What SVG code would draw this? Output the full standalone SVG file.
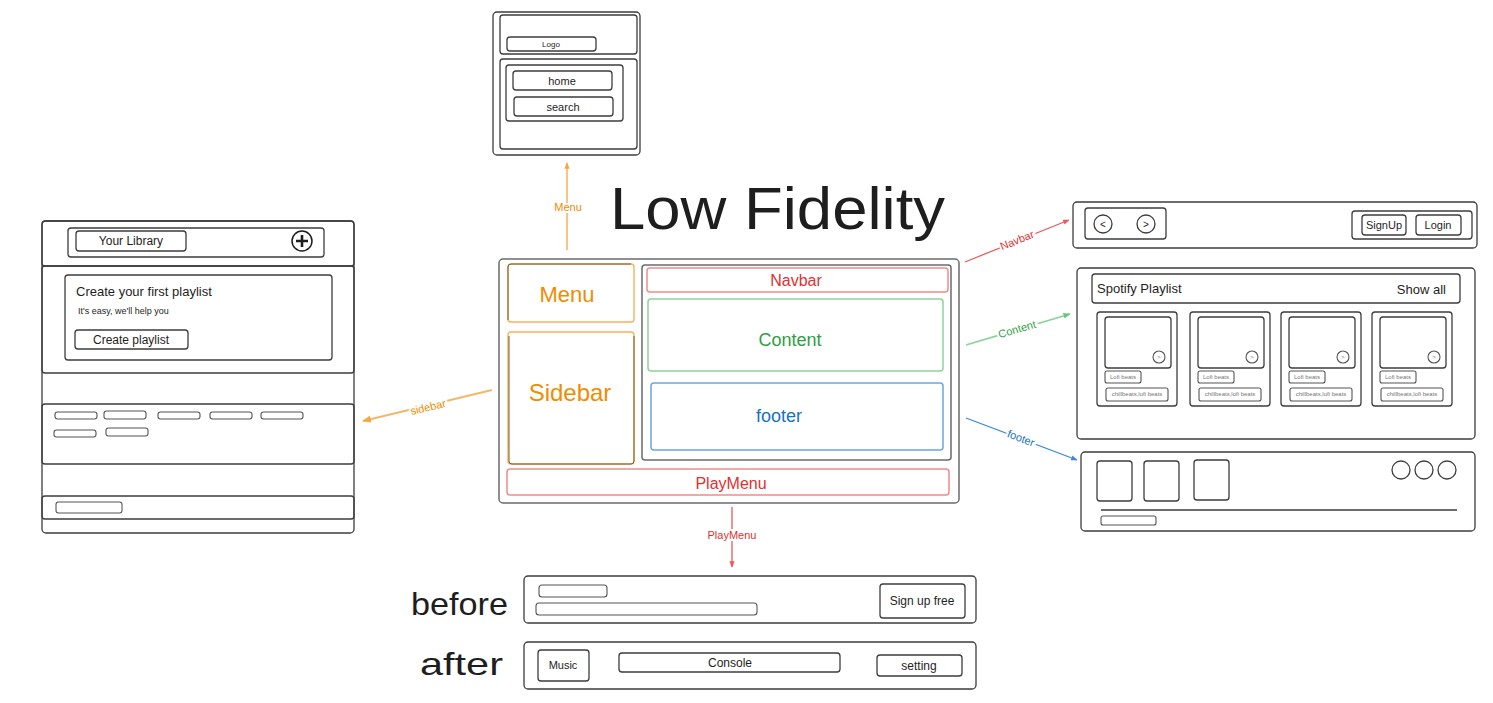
<svg xmlns="http://www.w3.org/2000/svg" width="1493" height="703" viewBox="0 0 1493 703">
  <defs>
    <style>
      .b{fill:none;stroke:#3d3d3d;stroke-width:1.3}
      .bl{fill:none;stroke:#555;stroke-width:1.1}
      .t{font-family:"Liberation Sans",Arial,sans-serif;fill:#1e1e1e;text-anchor:middle}
      .tl{font-family:"Liberation Sans",Arial,sans-serif;fill:#1e1e1e}
      .tiny{font-family:"Liberation Sans",Arial,sans-serif;fill:#777;font-size:6px;text-anchor:middle}
      .lbl{font-family:"Liberation Sans",Arial,sans-serif;font-size:11px;text-anchor:middle;stroke:#fff;stroke-width:4px;paint-order:stroke}
      .orange{fill:#f08c00}.red{fill:#e03131}.green{fill:#2f9e44}.blue{fill:#1971c2}
    </style>
    <marker id="ao" viewBox="0 0 10 10" refX="9" refY="5" markerWidth="5" markerHeight="5" orient="auto-start-reverse"><path d="M0,1 L10,5 L0,9 Z" fill="#f5a742"/></marker>
    <marker id="ar" viewBox="0 0 10 10" refX="9" refY="5" markerWidth="5" markerHeight="5" orient="auto-start-reverse"><path d="M0,1 L10,5 L0,9 Z" fill="#ec5a5a"/></marker>
    <marker id="ag" viewBox="0 0 10 10" refX="9" refY="5" markerWidth="4" markerHeight="4" orient="auto-start-reverse"><path d="M0,1 L10,5 L0,9 Z" fill="#6cc27e"/></marker>
    <marker id="ab" viewBox="0 0 10 10" refX="9" refY="5" markerWidth="5" markerHeight="5" orient="auto-start-reverse"><path d="M0,1 L10,5 L0,9 Z" fill="#3d88d6"/></marker>
  </defs>
  <rect width="1493" height="703" fill="#fff"/>

  <!-- title -->
  <g id="title">
    <text class="tl" x="610" y="229" font-size="60" textLength="335" lengthAdjust="spacingAndGlyphs">Low Fidelity</text>
  </g>

  <!-- menu wireframe (top) -->
  <g id="menu-wire">
    <rect class="b" x="493" y="12" width="147" height="143" rx="4"/>
    <rect class="b" x="500" y="15" width="137" height="39" rx="3"/>
    <rect class="b" x="507" y="37" width="89" height="14" rx="3"/>
    <text class="t" x="551" y="47" font-size="8">Logo</text>
    <rect class="b" x="500" y="59" width="137" height="90" rx="3"/>
    <rect class="b" x="506" y="65" width="117" height="56" rx="3"/>
    <rect class="b" x="513" y="71" width="99" height="19" rx="3"/>
    <text class="t" x="562" y="85" font-size="11">home</text>
    <rect class="b" x="514" y="97" width="99" height="19" rx="3"/>
    <text class="t" x="563" y="111" font-size="11">search</text>
  </g>

  <!-- library wireframe (left) -->
  <g id="library-wire">
    <rect class="b" x="42" y="221" width="312" height="312" rx="4"/>
    <rect class="b" x="42" y="221" width="312" height="45" rx="3"/>
    <rect class="b" x="68" y="228" width="256" height="29" rx="3"/>
    <rect class="b" x="76" y="231" width="110" height="20" rx="3"/>
    <text class="t" x="131" y="245" font-size="12">Your Library</text>
    <circle cx="302" cy="241" r="10" fill="none" stroke="#1e1e1e" stroke-width="1.5"/>
    <path d="M296 241 H308 M302 235 V247" stroke="#1e1e1e" stroke-width="2.6"/>
    <rect class="b" x="42" y="266" width="312" height="107" rx="3"/>
    <rect class="b" x="65" y="275" width="267" height="85" rx="3"/>
    <text class="tl" x="76" y="296" font-size="13">Create your first playlist</text>
    <text class="tl" x="78" y="314" font-size="9">It's easy, we'll help you</text>
    <rect class="b" x="75" y="330" width="113" height="19" rx="3"/>
    <text class="t" x="131" y="344" font-size="12">Create playlist</text>
    <rect class="b" x="42" y="404" width="312" height="60" rx="3"/>
    <g class="bl">
      <rect x="55" y="412" width="42" height="7" rx="2.5"/>
      <rect x="104" y="411" width="42" height="8" rx="2.5"/>
      <rect x="158" y="412" width="42" height="7" rx="2.5"/>
      <rect x="210" y="412" width="42" height="7" rx="2.5"/>
      <rect x="261" y="412" width="42" height="7" rx="2.5"/>
      <rect x="54" y="430" width="42" height="7" rx="2.5"/>
      <rect x="106" y="428" width="42" height="8" rx="2.5"/>
    </g>
    <rect class="b" x="42" y="496" width="312" height="23" rx="3"/>
    <rect class="bl" x="56" y="502" width="66" height="11" rx="2.5"/>
  </g>

  <!-- layout frame (centre) -->
  <g id="layout">
    <rect x="499" y="259" width="460" height="244" rx="4" fill="none" stroke="#6b6b6b" stroke-width="1.5"/>
    <rect x="508" y="264" width="126" height="58" rx="3" fill="none" stroke="#f6b35e" stroke-width="1.4"/>
    <path d="M508 320 V267 Q508 264 511 264 H631" fill="none" stroke="#7a5a2e" stroke-width="1"/>
    <text class="t orange" x="567" y="302" font-size="22">Menu</text>
    <rect x="508" y="332" width="126" height="132" rx="3" fill="none" stroke="#f6b35e" stroke-width="1.4"/>
    <path d="M509 336 V461 Q509 464 512 464 H631 Q634 464 634 461 V336" fill="none" stroke="#7a5a2e" stroke-width="1"/>
    <text class="t orange" x="570" y="401" font-size="24">Sidebar</text>
    <rect x="642" y="265" width="309" height="195" rx="3" fill="none" stroke="#6b6b6b" stroke-width="1.5"/>
    <rect x="647" y="268" width="301" height="24" rx="3" fill="none" stroke="#f08c8c" stroke-width="1.5"/>
    <text class="t red" x="796" y="286" font-size="16">Navbar</text>
    <rect x="648" y="299" width="295" height="72" rx="3" fill="none" stroke="#8fd19e" stroke-width="1.5"/>
    <text class="t green" x="790" y="346" font-size="18">Content</text>
    <rect x="651" y="383" width="292" height="67" rx="3" fill="none" stroke="#6aa6e0" stroke-width="1.5"/>
    <text class="t blue" x="779" y="422" font-size="18">footer</text>
    <rect x="507" y="469" width="442" height="26" rx="3" fill="none" stroke="#f08c8c" stroke-width="1.5"/>
    <text class="t red" x="731" y="489" font-size="16">PlayMenu</text>
  </g>

  <!-- navbar wireframe (right) -->
  <g id="navbar-wire">
    <rect class="b" x="1073" y="202" width="404" height="46" rx="4"/>
    <rect class="b" x="1085" y="208" width="81" height="31" rx="3"/>
    <circle class="b" cx="1103" cy="224" r="9"/>
    <text class="t" x="1103" y="228" font-size="10">&lt;</text>
    <circle class="b" cx="1146" cy="224" r="9"/>
    <text class="t" x="1146" y="228" font-size="10">&gt;</text>
    <rect class="b" x="1352" y="211" width="120" height="28" rx="3"/>
    <rect class="b" x="1362" y="215" width="44" height="20" rx="3"/>
    <text class="t" x="1384" y="229" font-size="11">SignUp</text>
    <rect class="b" x="1416" y="215" width="45" height="20" rx="3"/>
    <text class="t" x="1438" y="229" font-size="11">Login</text>
  </g>

  <!-- content wireframe (right) -->
  <g id="content-wire">
    <rect class="b" x="1077" y="268" width="398" height="171" rx="4"/>
    <rect class="b" x="1092" y="274" width="368" height="29" rx="3"/>
    <text class="tl" x="1097" y="293" font-size="13">Spotify Playlist</text>
    <text class="tl" x="1446" y="294" font-size="13" text-anchor="end">Show all</text>
    <g id="card1">
      <rect class="b" x="1097" y="312" width="80" height="94" rx="3"/>
      <rect class="b" x="1105" y="317" width="66" height="51" rx="3"/>
      <circle class="bl" cx="1159" cy="357" r="6"/>
      <text class="tiny" x="1159" y="359" font-size="5">&gt;</text>
      <rect class="bl" x="1105" y="371" width="36" height="12" rx="2"/>
      <text class="tiny" x="1123" y="379">Lofi beats</text>
      <rect class="bl" x="1106" y="388" width="62" height="13" rx="2"/>
      <text class="tiny" x="1137" y="396">chillbeats,lofi beats</text>
    </g>
    <g id="card2" transform="translate(93 0)">
      <rect class="b" x="1097" y="312" width="80" height="94" rx="3"/>
      <rect class="b" x="1105" y="317" width="66" height="51" rx="3"/>
      <circle class="bl" cx="1159" cy="357" r="6"/>
      <text class="tiny" x="1159" y="359" font-size="5">&gt;</text>
      <rect class="bl" x="1105" y="371" width="36" height="12" rx="2"/>
      <text class="tiny" x="1123" y="379">Lofi beats</text>
      <rect class="bl" x="1106" y="388" width="62" height="13" rx="2"/>
      <text class="tiny" x="1137" y="396">chillbeats,lofi beats</text>
    </g>
    <g id="card3" transform="translate(184 0)">
      <rect class="b" x="1097" y="312" width="80" height="94" rx="3"/>
      <rect class="b" x="1105" y="317" width="66" height="51" rx="3"/>
      <circle class="bl" cx="1159" cy="357" r="6"/>
      <text class="tiny" x="1159" y="359" font-size="5">&gt;</text>
      <rect class="bl" x="1105" y="371" width="36" height="12" rx="2"/>
      <text class="tiny" x="1123" y="379">Lofi beats</text>
      <rect class="bl" x="1106" y="388" width="62" height="13" rx="2"/>
      <text class="tiny" x="1137" y="396">chillbeats,lofi beats</text>
    </g>
    <g id="card4" transform="translate(275 0)">
      <rect class="b" x="1097" y="312" width="80" height="94" rx="3"/>
      <rect class="b" x="1105" y="317" width="66" height="51" rx="3"/>
      <circle class="bl" cx="1159" cy="357" r="6"/>
      <text class="tiny" x="1159" y="359" font-size="5">&gt;</text>
      <rect class="bl" x="1105" y="371" width="36" height="12" rx="2"/>
      <text class="tiny" x="1123" y="379">Lofi beats</text>
      <rect class="bl" x="1106" y="388" width="62" height="13" rx="2"/>
      <text class="tiny" x="1137" y="396">chillbeats,lofi beats</text>
    </g>
  </g>

  <!-- footer wireframe (right) -->
  <g id="footer-wire">
    <rect class="b" x="1081" y="452" width="394" height="79" rx="4"/>
    <rect class="b" x="1097" y="461" width="35" height="40" rx="3"/>
    <rect class="b" x="1144" y="461" width="35" height="40" rx="3"/>
    <rect class="b" x="1194" y="460" width="35" height="40" rx="3"/>
    <circle class="b" cx="1401" cy="470" r="9"/>
    <circle class="b" cx="1424" cy="470" r="9"/>
    <circle class="b" cx="1447" cy="470" r="9"/>
    <line class="b" x1="1101" y1="510" x2="1457" y2="510"/>
    <rect class="bl" x="1101" y="516" width="55" height="9" rx="2"/>
  </g>

  <!-- play menu wireframes (bottom) -->
  <g id="playmenu-before">
    <text class="tl" x="411" y="615" font-size="32" textLength="97" lengthAdjust="spacingAndGlyphs">before</text>
    <rect class="b" x="524" y="576" width="452" height="47" rx="4"/>
    <rect class="bl" x="539" y="585" width="68" height="12" rx="3"/>
    <rect class="bl" x="536" y="603" width="221" height="12" rx="3"/>
    <rect class="b" x="880" y="584" width="85" height="34" rx="3"/>
    <text class="t" x="922" y="605" font-size="12">Sign up free</text>
  </g>
  <g id="playmenu-after">
    <text class="tl" x="420" y="675" font-size="32" textLength="83" lengthAdjust="spacingAndGlyphs">after</text>
    <rect class="b" x="524" y="642" width="452" height="47" rx="4"/>
    <rect class="b" x="538" y="650" width="51" height="31" rx="3"/>
    <text class="t" x="563" y="669" font-size="11">Music</text>
    <rect class="b" x="619" y="653" width="221" height="19" rx="3"/>
    <text class="t" x="730" y="667" font-size="12">Console</text>
    <rect class="b" x="877" y="655" width="85" height="21" rx="3"/>
    <text class="t" x="919" y="670" font-size="12">setting</text>
  </g>

  <!-- connectors -->
  <g id="connectors" fill="none" stroke-width="1.3">
    <line x1="567" y1="250" x2="567" y2="163" stroke="#f5a742" marker-end="url(#ao)"/>
    <line x1="492" y1="390" x2="363" y2="421" stroke="#f5b66a" stroke-width="1.8" marker-end="url(#ao)"/>
    <line x1="965" y1="262" x2="1069" y2="220" stroke="#ec5a5a" marker-end="url(#ar)"/>
    <line x1="966" y1="345" x2="1070" y2="314" stroke="#8fd19e" stroke-width="1.8" marker-end="url(#ag)"/>
    <line x1="966" y1="418" x2="1077" y2="460" stroke="#3d88d6" marker-end="url(#ab)"/>
    <line x1="732" y1="507" x2="732" y2="567" stroke="#ec5a5a" marker-end="url(#ar)"/>
    <text class="lbl orange" x="568" y="211">Menu</text>
    <text class="lbl orange" x="428" y="411" transform="rotate(-13.5 428 407)">sidebar</text>
    <text class="lbl red" x="1017" y="244" transform="rotate(-22 1017 240)">Navbar</text>
    <text class="lbl green" x="1017" y="333" transform="rotate(-16 1017 329)">Content</text>
    <text class="lbl blue" x="1021" y="442" transform="rotate(20.7 1021 438)">footer</text>
    <text class="lbl red" x="732" y="539">PlayMenu</text>
  </g>
</svg>
